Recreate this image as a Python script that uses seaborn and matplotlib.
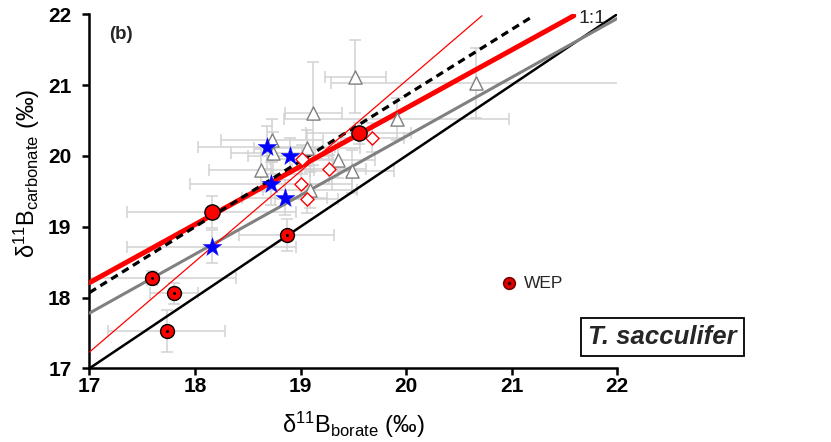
import numpy as np
import pandas as pd
import matplotlib
matplotlib.use("Agg")
import matplotlib.pyplot as plt
import seaborn as sns

# ---------------- data ----------------
# gray open triangles
tri_x = [19.52, 20.66, 19.12, 19.91, 18.73, 18.74, 19.06, 18.63, 19.36, 19.49, 19.09]
tri_y = [21.12, 21.03, 20.60, 20.52, 20.22, 20.04, 20.11, 19.80, 19.94, 19.78, 19.52]
tri_xerr = [0.29, 1.37, 0.27, 1.07, 0.48, 0.40, 0.50, 0.50, 0.35, 0.40, 0.45]
tri_yerr = [0.52, 0.50, 0.73, 0.30, 0.30, 0.30, 0.25, 0.30, 0.25, 0.30, 0.25]

# red open diamonds
dia_x = [19.68, 19.27, 19.00, 19.06, 19.01]
dia_y = [20.26, 19.81, 19.61, 19.39, 19.95]
dia_xerr = [0.30, 0.35, 0.30, 0.30, 0.30]
dia_yerr = [0.20, 0.20, 0.20, 0.20, 0.20]

# blue stars
star_x = [18.68, 18.90, 18.72, 18.85, 18.16]
star_y = [20.12, 20.00, 19.61, 19.41, 18.72]
star_xerr = [0.65, 0.40, 0.77, 0.40, 0.80]
star_yerr = [0.30, 0.25, 0.30, 0.25, 0.23]

# red filled circles
circ_x = [18.16, 19.55]
circ_y = [19.21, 20.32]
circ_xerr = [0.80, 0.50]
circ_yerr = [0.23, 0.15]

# red circles with central dot
dot_x = [17.59, 17.80, 17.73, 18.87]
dot_y = [18.27, 18.06, 17.53, 18.88]
dot_xerr = [0.80, 0.23, 0.55, 0.45]
dot_yerr = [0.10, 0.15, 0.30, 0.23]

# WEP legend symbol
wep_x = [20.98]
wep_y = [18.20]

# fitted lines: name, start/end points
line_names = ["1:1", "gray fit", "red fit", "dashed fit", "thin red"]
line_x0 = [17.0, 17.0, 17.0, 17.0, 17.0]
line_y0 = [17.0, 17.78, 18.21, 18.07, 17.23]
line_x1 = [22.0, 22.0, 21.59, 21.21, 20.72]
line_y1 = [22.0, 21.94, 21.98, 21.98, 21.98]

x_ticks = [17, 18, 19, 20, 21, 22]
y_ticks = [17, 18, 19, 20, 21, 22]

# ---------------- style ----------------
sns.set_theme(style="white")
plt.rcParams["font.family"] = ["Liberation Sans", "DejaVu Sans"]
plt.rcParams["mathtext.fontset"] = "custom"
plt.rcParams["mathtext.rm"] = "Liberation Sans"
plt.rcParams["mathtext.it"] = "Liberation Sans:italic"
plt.rcParams["mathtext.bf"] = "Liberation Sans:bold"

fig = plt.figure(figsize=(8.31, 4.42), dpi=100)
ax = fig.add_axes([0.1077, 0.1667, 0.6348, 0.8009])

ebc = "#d2d2d2"
ekw = dict(fmt="none", ecolor=ebc, elinewidth=1.1, capsize=4, capthick=1.1, zorder=1)
ax.errorbar(tri_x, tri_y, xerr=tri_xerr, yerr=tri_yerr, **ekw)
ax.errorbar(dia_x, dia_y, xerr=dia_xerr, yerr=dia_yerr, **ekw)
ax.errorbar(star_x, star_y, xerr=star_xerr, yerr=star_yerr, **ekw)
ax.errorbar(circ_x, circ_y, xerr=circ_xerr, yerr=circ_yerr, **ekw)
ax.errorbar(dot_x, dot_y, xerr=dot_xerr, yerr=dot_yerr, **ekw)

line_styles = {
    "1:1": dict(color="black", lw=1.8),
    "gray fit": dict(color="#808080", lw=2.2),
    "red fit": dict(color="#ff0000", lw=3.6),
    "dashed fit": dict(color="black", lw=2.3, dashes=(2.4, 1.6)),
    "thin red": dict(color="#ff0000", lw=0.9),
}
for i, name in enumerate(line_names):
    df = pd.DataFrame({"x": [line_x0[i], line_x1[i]], "y": [line_y0[i], line_y1[i]]})
    st = dict(line_styles[name])
    dashes = st.pop("dashes", None)
    sns.lineplot(data=df, x="x", y="y", ax=ax, zorder=3, **st)
    if dashes is not None:
        ax.lines[-1].set_dashes(dashes)

# markers
sns.scatterplot(x=tri_x, y=tri_y, ax=ax, marker="^", s=90, facecolor="white",
                edgecolor="#7f7f7f", linewidth=1.0, zorder=4)
sns.scatterplot(x=dia_x, y=dia_y, ax=ax, marker="D", s=45, facecolor="white",
                edgecolor="#ff0000", linewidth=1.0, zorder=4)
sns.scatterplot(x=star_x, y=star_y, ax=ax, marker="*", s=200, color="#0000ff",
                edgecolor="#0000ff", linewidth=0.3, zorder=5)
sns.scatterplot(x=circ_x, y=circ_y, ax=ax, marker="o", s=120, color="#ff0000",
                edgecolor="black", linewidth=1.0, zorder=5)
sns.scatterplot(x=dot_x, y=dot_y, ax=ax, marker="o", s=100, color="#ff0000",
                edgecolor="black", linewidth=1.0, zorder=5)
sns.scatterplot(x=dot_x, y=dot_y, ax=ax, marker="o", s=5, color="black",
                edgecolor="black", linewidth=0, zorder=6)
sns.scatterplot(x=wep_x, y=wep_y, ax=ax, marker="o", s=70, color="#e00000",
                edgecolor="#7a0000", linewidth=1.2, zorder=5)
sns.scatterplot(x=wep_x, y=wep_y, ax=ax, marker="o", s=7, color="#300000",
                linewidth=0, zorder=6)

# text
ax.text(21.12, 18.2, "WEP", fontsize=12.5, ha="left", va="center")
ax.text(21.76, 21.94, "1:1", fontsize=14, ha="center", va="center")
ax.text(17.19, 21.71, "(b)", fontsize=13.5, fontweight="bold", ha="left", va="center")
fig.text(662.7 / 831, 1 - 337.2 / 442, "T. sacculifer", fontsize=18.5, fontweight="bold",
         fontstyle="italic", ha="center", va="center",
         bbox=dict(boxstyle="square,pad=0.28", facecolor="white", edgecolor="black", lw=1.3))

# axes
ax.set_xlim(17, 22)
ax.set_ylim(17, 22)
ax.set_xticks(x_ticks)
ax.set_yticks(y_ticks)
ax.set_xticklabels([str(t) for t in x_ticks], fontweight="bold", fontsize=15)
ax.set_yticklabels([str(t) for t in y_ticks], fontweight="bold", fontsize=15)
for side in ["top", "right"]:
    ax.spines[side].set_visible(False)
for side in ["left", "bottom"]:
    ax.spines[side].set_linewidth(1.8)
    ax.spines[side].set_color("black")
ax.tick_params(axis="both", direction="out", length=5, width=1.8, color="black",
               bottom=True, left=True, labelcolor="black")
ax.tick_params(axis="x", pad=1)
ax.tick_params(axis="y", pad=8)
ax.set_xlabel(r"δ$^{11}$B$_{\mathrm{borate}}$ (‰)", fontsize=17, color="black")
ax.set_ylabel(r"δ$^{11}$B$_{\mathrm{carbonate}}$ (‰)", fontsize=17, color="black")
ax.xaxis.set_label_coords(0.5, -0.118)
ax.yaxis.set_label_coords(-0.09, 0.55)
ax.grid(False)
ax.set_facecolor("white")
fig.patch.set_facecolor("white")

fig.savefig("out.png", dpi=100)
